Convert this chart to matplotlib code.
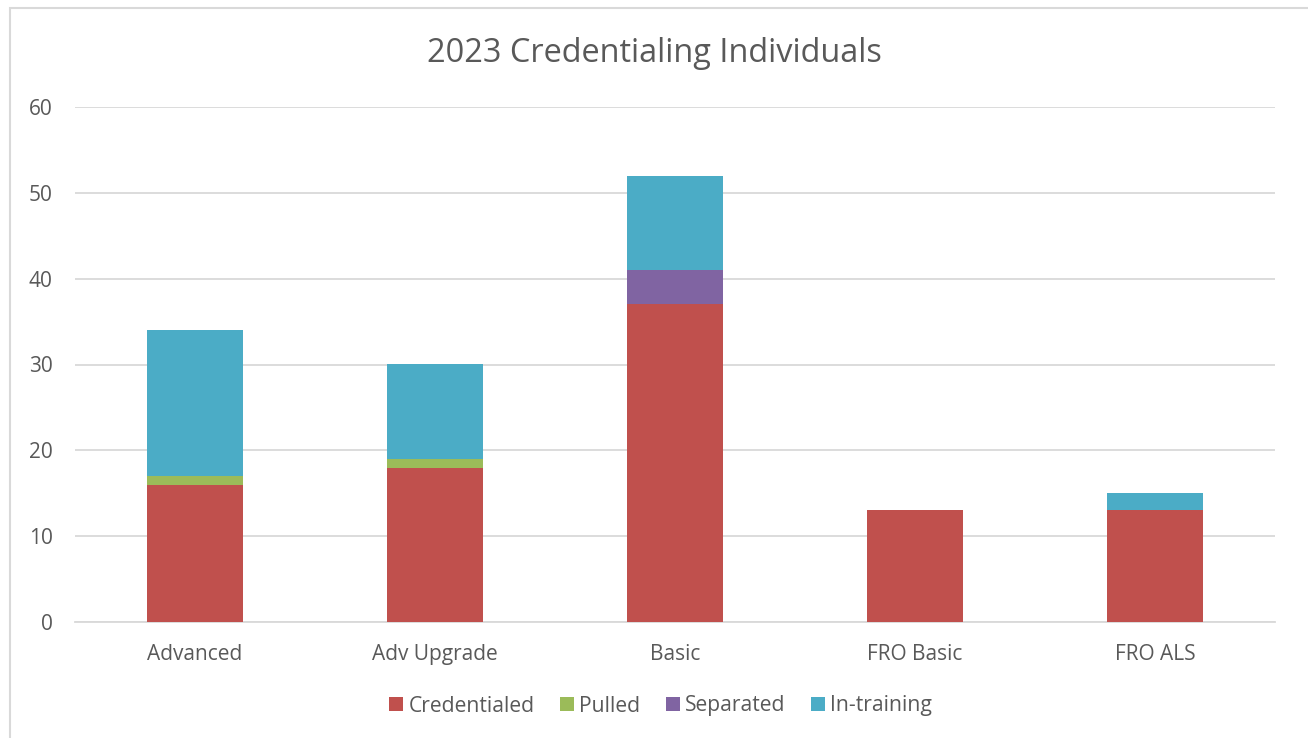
import matplotlib
matplotlib.use("Agg")
import matplotlib.pyplot as plt
from matplotlib.patches import Rectangle
import numpy as np

categories = ["Advanced", "Adv Upgrade", "Basic", "FRO Basic", "FRO ALS"]
credentialed = [16, 18, 37, 13, 13]
pulled = [1, 1, 0, 0, 0]
separated = [0, 0, 4, 0, 0]
in_training = [17, 11, 11, 0, 2]
series_names = ["Credentialed", "Pulled", "Separated", "In-training"]
colors = ["#C0504D", "#9BBB59", "#8064A2", "#4BACC6"]

plt.rcParams['font.family'] = ['Open Sans', 'DejaVu Sans']
W, H = 1308, 738
fig = plt.figure(figsize=(W/100, H/100), dpi=100)
fig.patches.append(Rectangle((10/W, -0.01), 1.02, 1 - 8/H + 0.01, transform=fig.transFigure,
                             fill=False, edgecolor="#D9D9D9", linewidth=1.5))
ax = fig.add_axes([75/W, (H-622)/H, (1275-75)/W, (622-107)/H])

x = np.arange(len(categories))
bottom = np.zeros(len(categories))
for name, vals, c in zip(series_names, [credentialed, pulled, separated, in_training], colors):
    v = np.array(vals, dtype=float)
    ax.bar(x, v, 0.4, bottom=bottom, color=c, label=name, zorder=3)
    bottom += v

ax.set_xlim(-0.5, len(categories) - 0.5)
ax.set_ylim(0, 60)
ax.set_yticks(range(0, 61, 10))
ax.grid(axis='y', color="#D9D9D9", linewidth=1.3, zorder=0)
for s in ["top", "right", "left"]:
    ax.spines[s].set_visible(False)
ax.spines["bottom"].set_color("#D9D9D9")
ax.spines["bottom"].set_linewidth(1.3)
ax.tick_params(axis='both', length=0, labelsize=15, labelcolor="#595959")
ax.tick_params(axis='y', pad=16)
ax.tick_params(axis='x', pad=16)
ax.set_xticks(x)
ax.set_xticklabels(categories)

fig.text(0.5, 1 - 53/H, "2023 Credentialing Individuals", ha='center', va='center',
         fontsize=23.4, color="#595959")
leg = fig.legend(loc='center', bbox_to_anchor=(660.5/W, 1 - 706/H), ncol=4, frameon=False,
                 fontsize=15.2, handlelength=0.66, handleheight=0.66, columnspacing=1.2,
                 handletextpad=0.26)
for t in leg.get_texts():
    t.set_color("#595959")

fig.savefig("out.png", dpi=100)
